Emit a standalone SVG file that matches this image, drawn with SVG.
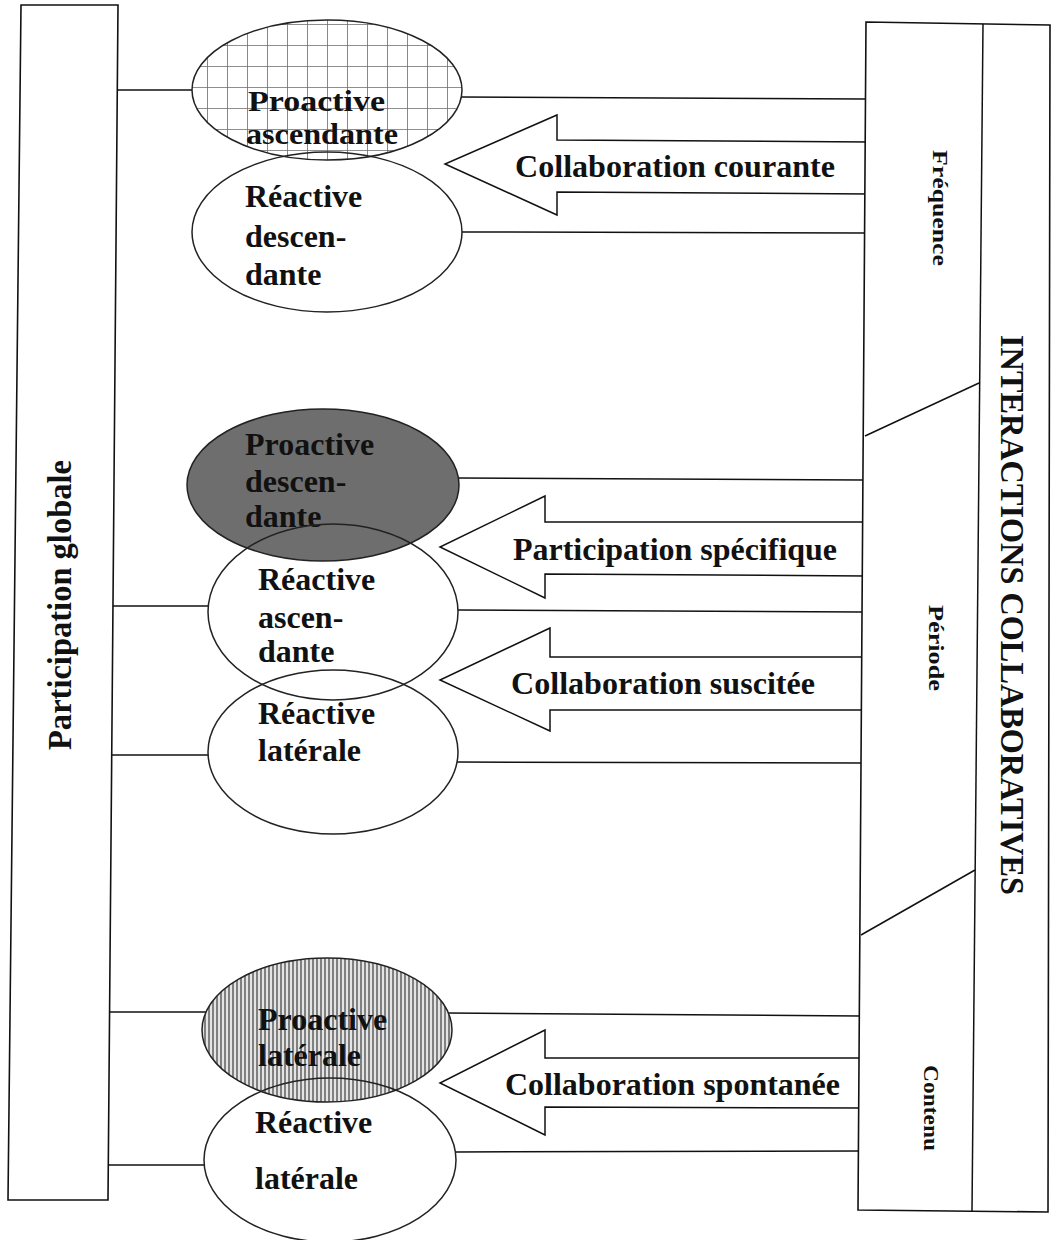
<svg xmlns="http://www.w3.org/2000/svg" width="1053" height="1240" viewBox="0 0 1053 1240">
  <defs>
    <pattern id="grid" width="20" height="21" patternUnits="userSpaceOnUse" x="7" y="3">
      <rect width="20" height="21" fill="#ffffff"/>
      <path d="M0 0V21M0 0H20" stroke="#6a6a6a" stroke-width="1.6" fill="none"/>
    </pattern>
    <pattern id="vhatch" width="4" height="10" patternUnits="userSpaceOnUse">
      <rect width="4" height="10" fill="#e4e4e4"/>
      <path d="M1 0V10" stroke="#555555" stroke-width="1.4"/>
    </pattern>
  </defs>
  <style>
    .box { fill: #ffffff; stroke: #111111; stroke-width: 1.6; }
    .ell { stroke: #222222; stroke-width: 1.5; }
    .open { fill: none; }
    .lbl { font-family: "Liberation Serif", "DejaVu Serif", serif; font-weight: bold; font-size: 32px; fill: #111111; }
    .lbl-s { font-size: 29px; }
    .side { font-family: "Liberation Serif", "DejaVu Serif", serif; font-weight: bold; font-size: 22px; fill: #111111; }
    .title { font-family: "Liberation Serif", "DejaVu Serif", serif; font-weight: bold; font-size: 33px; fill: #111111; }
    .conn line { stroke: #111111; stroke-width: 1.5; }
    .arrow { fill: #ffffff; stroke: #111111; stroke-width: 1.5; stroke-linejoin: miter; }
  </style>
  <rect width="1053" height="1240" fill="#ffffff"/>

  <!-- connectors (drawn first so the column edges sit on top) -->
  <g id="connectors" class="conn">
    <line x1="118" y1="90" x2="192" y2="90"/>
    <line x1="461" y1="97" x2="866" y2="99"/>
    <line x1="462" y1="232" x2="865" y2="233"/>
    <line x1="459" y1="478" x2="863" y2="480"/>
    <line x1="112" y1="606" x2="208" y2="606"/>
    <line x1="458" y1="610" x2="862" y2="612"/>
    <line x1="110" y1="755" x2="208" y2="755"/>
    <line x1="457" y1="762" x2="862" y2="763"/>
    <line x1="110" y1="1012" x2="206" y2="1012"/>
    <line x1="448" y1="1013" x2="860" y2="1016"/>
    <line x1="108" y1="1165" x2="204" y2="1165"/>
    <line x1="456" y1="1152" x2="860" y2="1151"/>
    <polyline class="arrow" points="870,142 557,140 557,115 445,164 557,215 557,192 870,194"/>
    <polyline class="arrow" points="866,522 545,522 545,496 440,547 545,598 545,574 866,576"/>
    <polyline class="arrow" points="866,657 550,657 550,628 440,680 550,731 550,710 866,710"/>
    <polyline class="arrow" points="864,1058 545,1058 545,1030 440,1083 545,1135 545,1107 864,1108"/>
  </g>

  <!-- left column -->
  <g id="participation-globale">
    <polygon class="box" points="21,5 118,5 108,1200 8,1200"/>
    <text class="title" transform="translate(71,605) rotate(-90)" text-anchor="middle" textLength="290" lengthAdjust="spacingAndGlyphs">Participation globale</text>
  </g>

  <!-- right column -->
  <g id="interactions-collaboratives">
    <polygon class="box" points="866,22 1050,25 1048,1212 858,1210"/>
    <line x1="983" y1="24" x2="972" y2="1211" stroke="#111111" stroke-width="1.5"/>
    <line x1="865" y1="436" x2="979" y2="383" stroke="#111111" stroke-width="1.5"/>
    <line x1="861" y1="935" x2="975" y2="870" stroke="#111111" stroke-width="1.5"/>
    <text class="title" transform="translate(1001,615) rotate(90)" text-anchor="middle" textLength="560" lengthAdjust="spacingAndGlyphs">INTERACTIONS COLLABORATIVES</text>
    <text class="side" transform="translate(933,208) rotate(90)" text-anchor="middle" textLength="116" lengthAdjust="spacingAndGlyphs">Fréquence</text>
    <text class="side" transform="translate(929,648) rotate(90)" text-anchor="middle" textLength="86" lengthAdjust="spacingAndGlyphs">Période</text>
    <text class="side" transform="translate(924,1108) rotate(90)" text-anchor="middle" textLength="86" lengthAdjust="spacingAndGlyphs">Contenu</text>
  </g>

  <!-- arrow labels -->
  <g id="label-courante"><text class="lbl" x="515" y="177" textLength="320" lengthAdjust="spacingAndGlyphs">Collaboration courante</text></g>
  <g id="label-specifique"><text class="lbl" x="513" y="560" textLength="324" lengthAdjust="spacingAndGlyphs">Participation spécifique</text></g>
  <g id="label-suscitee"><text class="lbl" x="511" y="694" textLength="304" lengthAdjust="spacingAndGlyphs">Collaboration suscitée</text></g>
  <g id="label-spontanee"><text class="lbl" x="505" y="1095" textLength="335" lengthAdjust="spacingAndGlyphs">Collaboration spontanée</text></g>

  <!-- proactive (filled) nodes -->
  <g id="proactive-ascendante">
    <ellipse class="ell" cx="327" cy="90" rx="135" ry="70" fill="url(#grid)"/>
    <text class="lbl lbl-s" x="248" y="111" textLength="137" lengthAdjust="spacingAndGlyphs">Proactive</text>
    <text class="lbl lbl-s" x="246" y="144" textLength="152" lengthAdjust="spacingAndGlyphs">ascendante</text>
  </g>
  <g id="proactive-descendante">
    <ellipse class="ell" cx="323" cy="485" rx="136" ry="76" fill="#6e6e6e"/>
    <text class="lbl" x="245" y="455">Proactive</text>
    <text class="lbl" x="245" y="492">descen-</text>
    <text class="lbl" x="245" y="527">dante</text>
  </g>
  <g id="proactive-laterale">
    <ellipse class="ell" cx="327" cy="1030" rx="125" ry="72" fill="url(#vhatch)"/>
    <text class="lbl" x="258" y="1030" fill="#333333">Proactive</text>
    <text class="lbl" x="258" y="1066" fill="#333333">latérale</text>
  </g>

  <!-- reactive (outline) nodes -->
  <g id="reactive-descendante">
    <ellipse class="ell open" cx="327" cy="232" rx="135" ry="80"/>
    <text class="lbl" x="245" y="207">Réactive</text>
    <text class="lbl" x="245" y="247">descen-</text>
    <text class="lbl" x="245" y="285">dante</text>
  </g>
  <g id="reactive-ascendante">
    <ellipse class="ell open" cx="333" cy="612" rx="125" ry="88"/>
    <text class="lbl" x="258" y="590">Réactive</text>
    <text class="lbl" x="258" y="628">ascen-</text>
    <text class="lbl" x="258" y="662">dante</text>
  </g>
  <g id="reactive-laterale-mid">
    <ellipse class="ell open" cx="333" cy="752" rx="125" ry="82"/>
    <text class="lbl" x="258" y="724">Réactive</text>
    <text class="lbl" x="258" y="761">latérale</text>
  </g>
  <g id="reactive-laterale-bottom">
    <ellipse class="ell open" cx="330" cy="1160" rx="126" ry="82"/>
    <text class="lbl" x="255" y="1133">Réactive</text>
    <text class="lbl" x="255" y="1189">latérale</text>
  </g>
</svg>
